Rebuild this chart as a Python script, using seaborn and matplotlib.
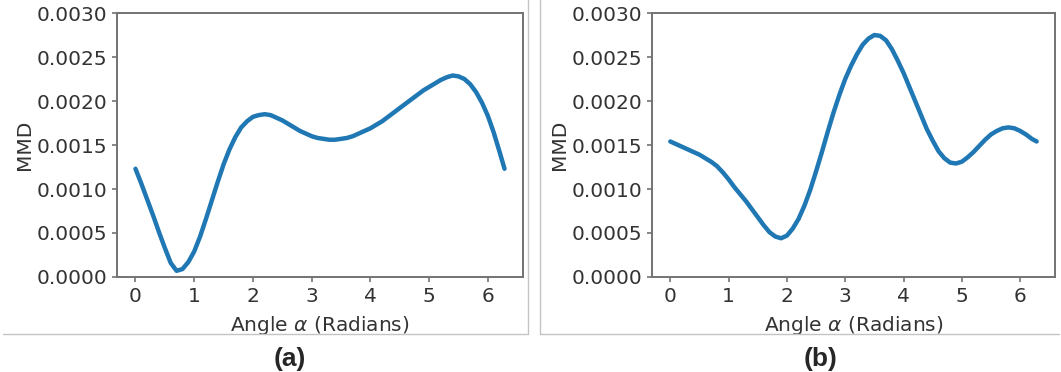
import numpy as np
import pandas as pd
import matplotlib
matplotlib.use("Agg")
import matplotlib.pyplot as plt
from matplotlib.lines import Line2D
import seaborn as sns

# angle samples (radians)
angle = [0.0, 0.1, 0.2, 0.3, 0.4, 0.5, 0.6, 0.7, 0.8, 0.9,
         1.0, 1.1, 1.2, 1.3, 1.4, 1.5, 1.6, 1.7, 1.8, 1.9,
         2.0, 2.1, 2.2, 2.3, 2.4, 2.5, 2.6, 2.7, 2.8, 2.9,
         3.0, 3.1, 3.2, 3.3, 3.4, 3.5, 3.6, 3.7, 3.8, 3.9,
         4.0, 4.1, 4.2, 4.3, 4.4, 4.5, 4.6, 4.7, 4.8, 4.9,
         5.0, 5.1, 5.2, 5.3, 5.4, 5.5, 5.6, 5.7, 5.8, 5.9,
         6.0, 6.1, 6.2, 6.283]

# panel (a)
mmd_a = [0.00123, 0.00106, 0.00088, 0.00070, 0.00051, 0.00033, 0.00016, 0.00007, 0.00009, 0.00017,
         0.00029, 0.00046, 0.00066, 0.00087, 0.00108, 0.00128, 0.00145, 0.00159, 0.00170, 0.00177,
         0.00182, 0.00184, 0.00185, 0.00184, 0.00181, 0.00178, 0.00174, 0.00170, 0.00166, 0.00163,
         0.00160, 0.00158, 0.00157, 0.00156, 0.00156, 0.00157, 0.00158, 0.00160, 0.00163, 0.00166,
         0.00169, 0.00173, 0.00177, 0.00182, 0.00187, 0.00192, 0.00197, 0.00202, 0.00207, 0.00212,
         0.00216, 0.00220, 0.00224, 0.00227, 0.00229, 0.00228, 0.00225, 0.00219, 0.00210, 0.00198,
         0.00183, 0.00164, 0.00142, 0.00123]

# panel (b)
mmd_b = [0.00154, 0.00151, 0.00148, 0.00145, 0.00142, 0.00139, 0.00135, 0.00131, 0.00126, 0.00119,
         0.00111, 0.00102, 0.00094, 0.00086, 0.00077, 0.00068, 0.00059, 0.00051, 0.00046, 0.00044,
         0.00047, 0.00055, 0.00066, 0.00081, 0.00099, 0.00120, 0.00142, 0.00165, 0.00187, 0.00207,
         0.00225, 0.00240, 0.00253, 0.00264, 0.00271, 0.00275, 0.00274, 0.00269, 0.00259, 0.00246,
         0.00232, 0.00216, 0.00200, 0.00184, 0.00168, 0.00155, 0.00143, 0.00135, 0.00130, 0.00129,
         0.00131, 0.00136, 0.00142, 0.00149, 0.00156, 0.00162, 0.00166, 0.00169, 0.00170, 0.00169,
         0.00166, 0.00162, 0.00157, 0.00154]

panel_labels = ["(a)", "(b)"]
yticks = [0.0, 0.0005, 0.0010, 0.0015, 0.0020, 0.0025, 0.0030]

sns.set_style("ticks", {"axes.edgecolor": "0.45", "xtick.color": "0.45", "ytick.color": "0.45"})
plt.rcParams["font.family"] = ["DejaVu Sans"]
plt.rcParams["axes.linewidth"] = 1.4

fig = plt.figure(figsize=(10.61, 3.72), dpi=100)
ax_a = fig.add_axes([0.1103, 0.2554, 0.3826, 0.7096])
ax_b = fig.add_axes([0.6145, 0.2554, 0.3798, 0.7096])

for ax, vals, lab, xc in [(ax_a, mmd_a, panel_labels[0], 0.273), (ax_b, mmd_b, panel_labels[1], 0.773)]:
    df = pd.DataFrame({"angle": angle, "mmd": vals})
    sns.lineplot(data=df, x="angle", y="mmd", ax=ax, color="#1f77b4", linewidth=3.2)
    ax.set_ylim(0, 0.003)
    ax.set_yticks(yticks)
    ax.set_yticklabels(["%.4f" % t for t in yticks])
    ax.set_xticks(range(7))
    ax.tick_params(labelsize=14.5, labelcolor="#333333", length=3.5, width=1.2)
    ax.set_xlabel(r"Angle $\alpha$ (Radians)", fontsize=14.5, color="#333333", labelpad=6)
    ax.set_ylabel("MMD", fontsize=14.5, color="#333333", labelpad=2)
    fig.text(xc, 0.036, lab, ha="center", va="center", fontsize=19,
             fontweight="bold", family="Liberation Sans")

# light frame lines around each panel
W, H = 1061.0, 372.0
frame = "#c4c4c4"
for (x0, y0, x1, y1) in [(3, 334, 528, 334), (528, 0, 528, 334),
                         (540, 0, 540, 334), (540, 334, 1059, 334)]:
    fig.add_artist(Line2D([x0 / W, x1 / W], [1 - y0 / H, 1 - y1 / H],
                          color=frame, linewidth=1, transform=fig.transFigure))

fig.savefig("out.png", dpi=100)
